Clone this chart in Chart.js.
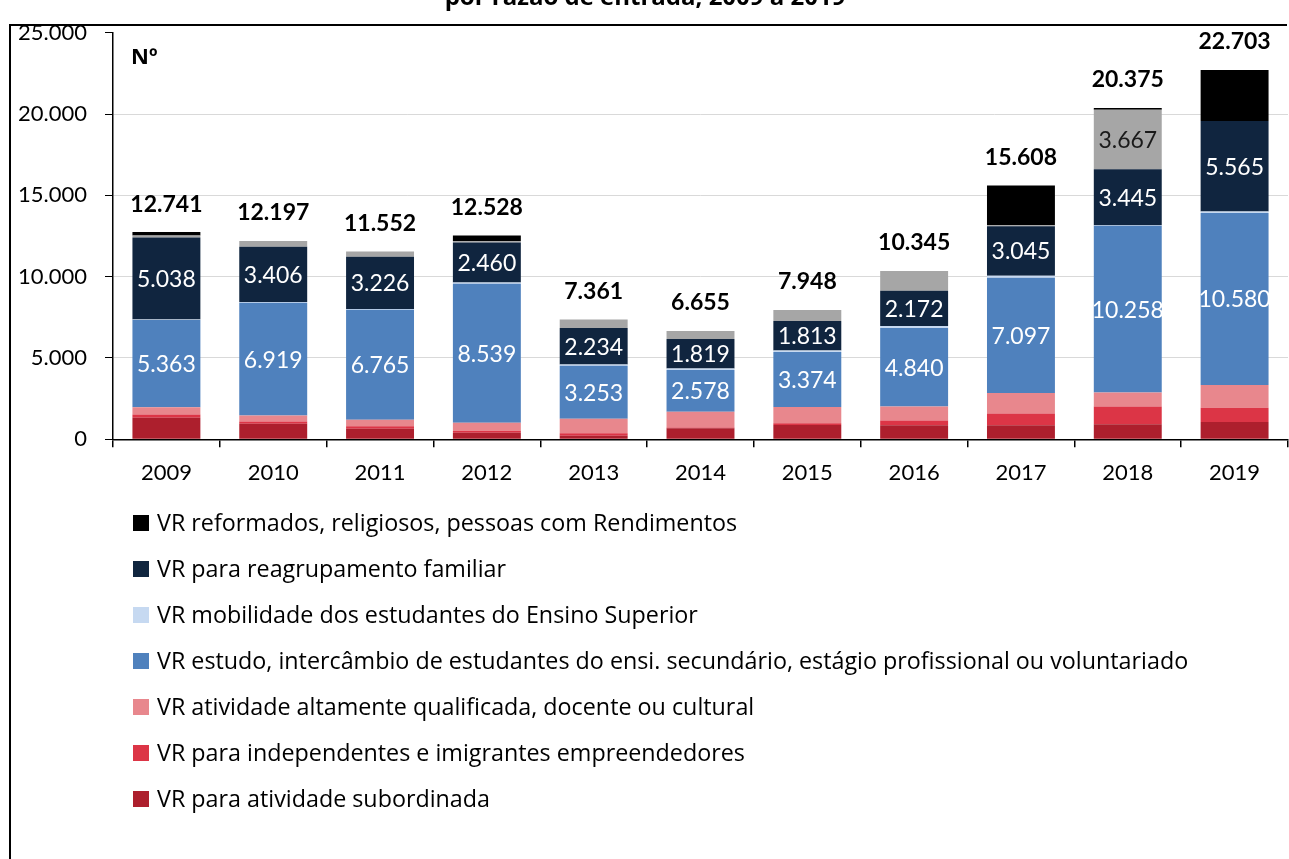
<!DOCTYPE html>
<html><head><meta charset="utf-8">
<script src="https://cdn.jsdelivr.net/npm/chart.js@4.4.1/dist/chart.umd.min.js"></script>
<style>
html,body{margin:0;padding:0;background:#fff;overflow:hidden}
#wrap{position:relative;width:1289px;height:859px}
#frame{position:absolute;left:9px;top:24px;width:1276px;height:850px;border-top:2px solid #000;border-left:2px solid #000;pointer-events:none}
canvas{position:absolute;left:0;top:0}
</style></head><body>
<div id="wrap"><canvas id="c" width="1289" height="859"></canvas><div id="frame"></div></div>
<script>
// ---- data ----
const years = ['2009','2010','2011','2012','2013','2014','2015','2016','2017','2018','2019'];
const subordinada   = [1330, 950, 650, 400, 220, 680, 880, 860, 860, 920, 1060];
const independentes = [190, 150, 150, 120, 150, 50, 110, 290, 730, 1090, 885];
const altamente     = [450, 370, 400, 500, 900, 960, 1000, 860, 1250, 860, 1390];
const estudo        = [5363, 6919, 6765, 8539, 3253, 2578, 3374, 4840, 7097, 10258, 10580];
const mobilidade    = [40, 50, 40, 80, 80, 78, 100, 113, 120, 30, 93];
const reagrupamento = [5038, 3406, 3226, 2460, 2234, 1819, 1813, 2172, 3045, 3445, 5565];
const outros        = [120, 352, 321, 80, 524, 490, 671, 1210, 60, 3667, 0];
const reformados    = [210, 0, 0, 349, 0, 0, 0, 0, 2446, 105, 3130];
const totals        = [12741, 12197, 11552, 12528, 7361, 6655, 7948, 10345, 15608, 20375, 22703];
const yTickValues   = [0, 5000, 10000, 15000, 20000, 25000];

const FONT = 'Lato, "Open Sans", sans-serif';
const FONT2 = '"Open Sans", Lato, sans-serif';
const fmt = v => String(v).replace(/\B(?=(\d{3})+(?!\d))/g, '.');

const datasets = [
  {label:'VR para atividade subordinada', data:subordinada, backgroundColor:'#ad1f2d'},
  {label:'VR para independentes e imigrantes empreendedores', data:independentes, backgroundColor:'#dc3546'},
  {label:'VR atividade altamente qualificada, docente ou cultural', data:altamente, backgroundColor:'#e8878d'},
  {label:'VR estudo, intercâmbio de estudantes do ensi. secundário, estágio profissional ou voluntariado', data:estudo, backgroundColor:'#4f81bd', segLabel:{color:'#ffffff', min:0}},
  {label:'VR mobilidade dos estudantes do Ensino Superior', data:mobilidade, backgroundColor:'#c6d9f1'},
  {label:'VR para reagrupamento familiar', data:reagrupamento, backgroundColor:'#10253f', segLabel:{color:'#ffffff', min:0}},
  {label:'Outros', data:outros, backgroundColor:'#a6a6a6', legendHidden:true, segLabel:{color:'#1a1a1a', min:3000}},
  {label:'VR reformados, religiosos, pessoas com Rendimentos', data:reformados, backgroundColor:'#000000'}
].map(d => Object.assign({barPercentage:0.636, categoryPercentage:1.0, borderWidth:0}, d));

const extrasPlugin = {
  id:'extras',
  afterDatasetsDraw(chart){
    const ctx = chart.ctx;
    const yScale = chart.scales.y;
    ctx.save();
    ctx.textAlign = 'center';
    ctx.textBaseline = 'middle';
    chart.data.datasets.forEach((ds, di) => {
      if (!ds.segLabel) return;
      const meta = chart.getDatasetMeta(di);
      ctx.font = '23px ' + FONT;
      ctx.fillStyle = ds.segLabel.color;
      meta.data.forEach((el, i) => {
        const v = ds.data[i];
        if (!v || v < ds.segLabel.min) return;
        ctx.fillText(fmt(v), el.x, (el.y + el.base) / 2 + 1);
      });
    });
    const meta0 = chart.getDatasetMeta(0);
    ctx.font = 'bold 23px ' + FONT;
    ctx.fillStyle = '#000';
    totals.forEach((t, i) => {
      const x = meta0.data[i].x;
      const y = yScale.getPixelForValue(t) - 28;
      ctx.fillText(fmt(t), x, y);
    });
    ctx.restore();
  },
  afterDraw(chart){
    const ctx = chart.ctx;
    ctx.save();
    ctx.font = 'bold 24px ' + FONT2;
    ctx.fillStyle = '#000';
    ctx.textAlign = 'center';
    ctx.textBaseline = 'alphabetic';
    ctx.fillText('por razão de entrada, 2009 a 2019', 645, 5);
    ctx.textAlign = 'left';
    ctx.font = 'bold 22px ' + FONT2;
    ctx.fillText('Nº', 131, 64);
    const items = chart.data.datasets.filter(d => !d.legendHidden).slice().reverse();
    ctx.font = '23.3px ' + FONT2;
    ctx.textBaseline = 'middle';
    items.forEach((d, k) => {
      const cy = 523 + k * 46;
      ctx.fillStyle = d.backgroundColor;
      ctx.fillRect(133, cy - 8, 16, 16);
      ctx.fillStyle = '#000';
      ctx.fillText(d.label, 157, cy + 1);
    });
    ctx.restore();
  }
};

new Chart(document.getElementById('c'), {
  type:'bar',
  data:{labels:years, datasets},
  options:{
    responsive:false, animation:false, devicePixelRatio:1,
    layout:{padding:{left:0, right:1, top:32.7, bottom:369.7}},
    plugins:{legend:{display:false}, tooltip:{enabled:false}, title:{display:false}},
    scales:{
      x:{
        stacked:true, offset:true,
        grid:{display:true, drawOnChartArea:false, offset:true, tickLength:8, color:'#000', lineWidth:1.5},
        border:{display:true, color:'#000', width:1.5},
        ticks:{color:'#000', font:{family:FONT, size:22}, padding:12},
        afterFit(s){ s.height = 50; }
      },
      y:{
        stacked:true, min:0, max:25000,
        afterBuildTicks(s){ s.ticks = yTickValues.map(v => ({value:v})); },
        ticks:{color:'#000', font:{family:FONT, size:22}, padding:18, callback:v => fmt(v)},
        grid:{
          color:c => (c.tick && (c.tick.value === 0 || c.tick.value === 25000)) ? 'rgba(0,0,0,0)' : '#d9d9d9',
          tickColor:'#000', tickLength:8, lineWidth:1
        },
        border:{display:true, color:'#000', width:1.5},
        afterFit(s){ s.width = 113; }
      }
    }
  },
  plugins:[extrasPlugin]
});
</script>
</body></html>
